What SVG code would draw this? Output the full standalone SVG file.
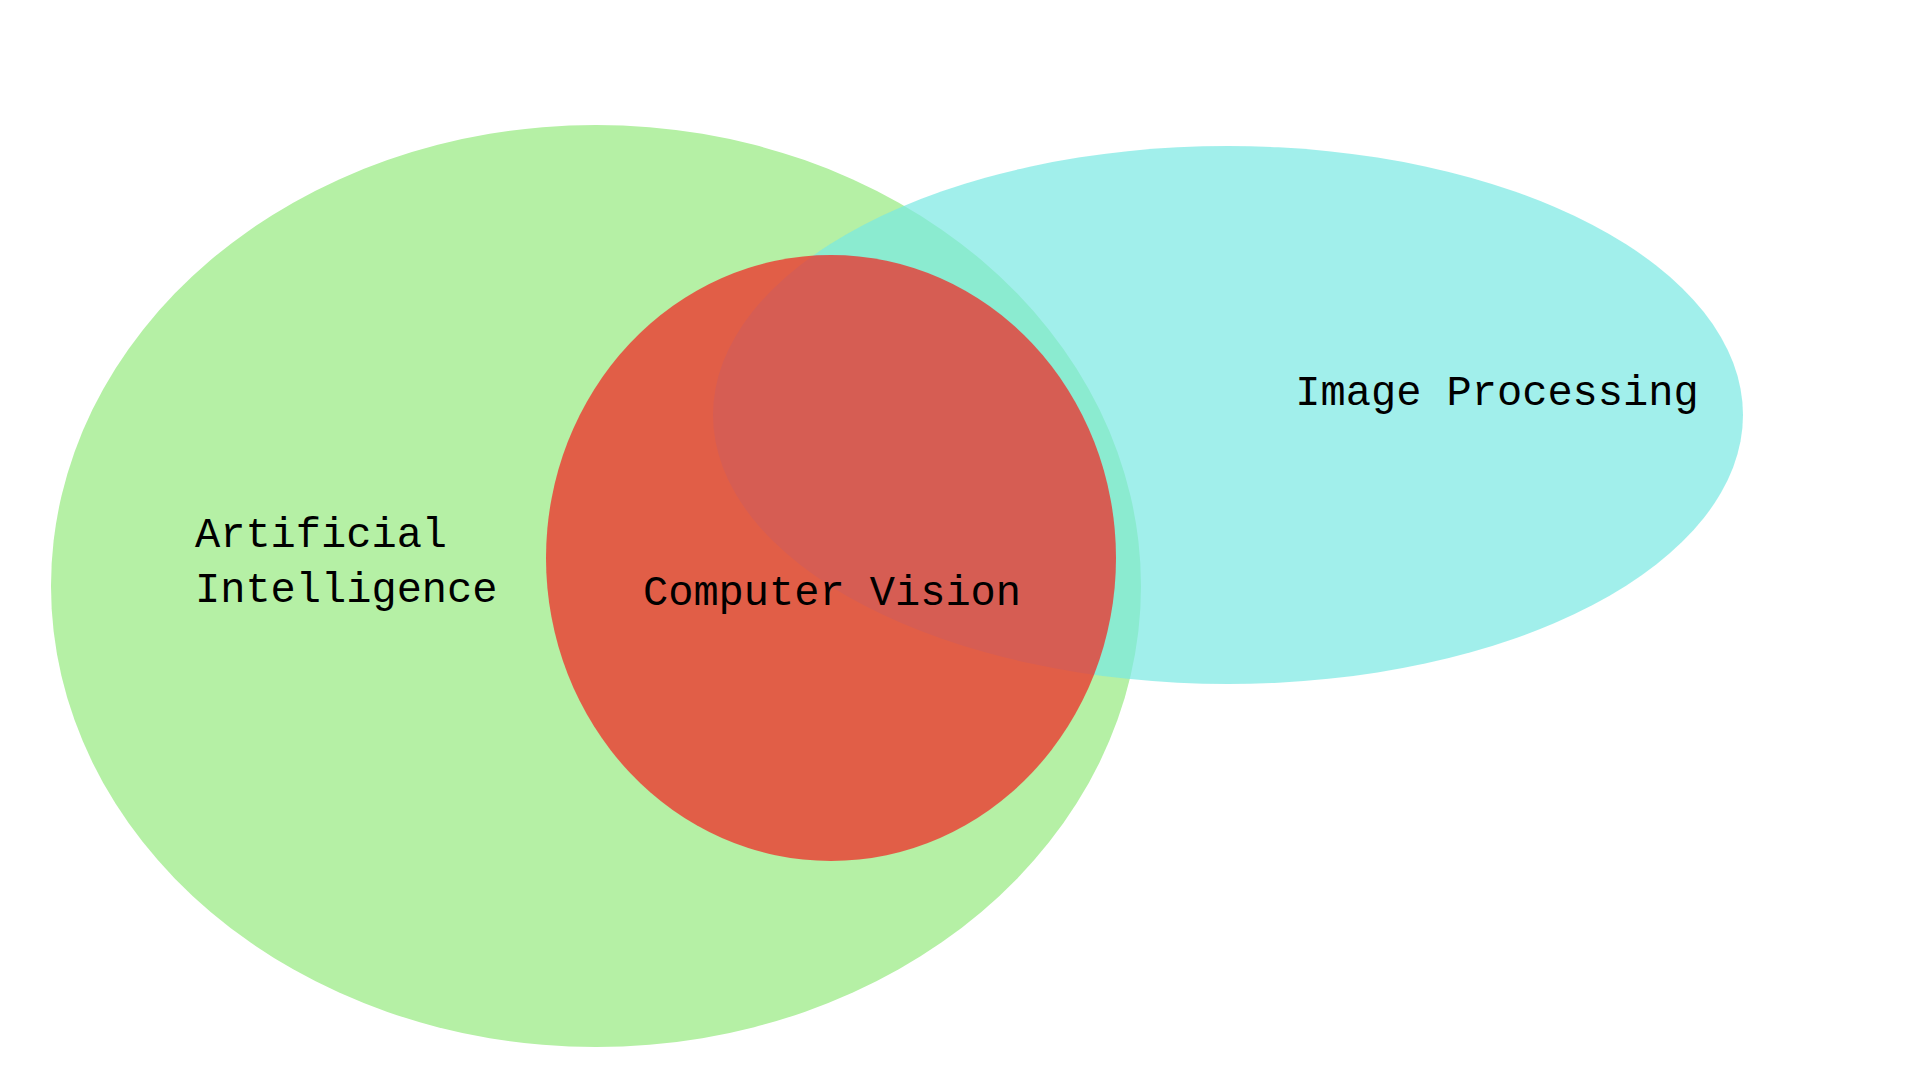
<svg xmlns="http://www.w3.org/2000/svg" width="1920" height="1080" viewBox="0 0 1920 1080">
<style>
.lbl{font-family:"Liberation Mono","DejaVu Sans Mono",monospace;font-size:42px;fill:#000}
</style>
<rect width="1920" height="1080" fill="#ffffff"/>
<g id="ai"><ellipse cx="596" cy="586" rx="545" ry="461" fill="#b5f0a5"/></g>
<g id="ip"><ellipse cx="1228" cy="415" rx="515" ry="269" fill="#79e8e2" fill-opacity="0.7"/></g>
<g id="cv"><ellipse cx="831" cy="558" rx="285" ry="303" fill="#f22623" fill-opacity="0.72"/></g>
<g id="labels">
<text class="lbl" x="195" y="547">Artificial</text>
<text class="lbl" x="195" y="602">Intelligence</text>
<text class="lbl" x="832" y="605" text-anchor="middle">Computer Vision</text>
<text class="lbl" x="1497" y="405" text-anchor="middle">Image Processing</text>
</g>
</svg>
